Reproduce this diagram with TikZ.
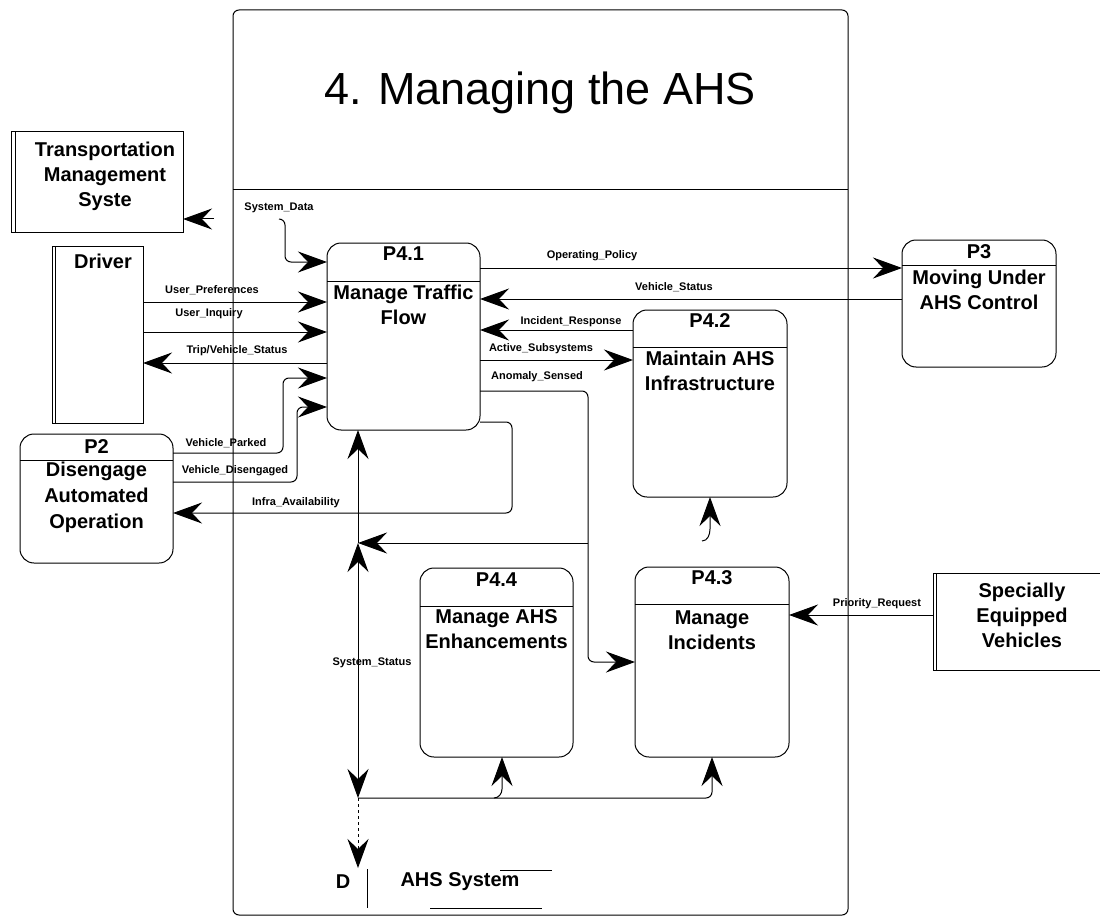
\documentclass[tikz,border=0pt]{standalone}
\usepackage{fontspec}
\setmainfont{Liberation Sans}
\usetikzlibrary{arrows.meta}
\begin{document}
\begin{tikzpicture}[x=1pt,y=-1pt,
  every node/.style={inner sep=0pt, outer sep=0pt},
  thin line/.style={line width=1pt},
  flow/.style={line width=1pt, -{Stealth[length=29pt,width=21pt,inset=10pt]}},
  bothway/.style={line width=1pt, {Stealth[length=29pt,width=21pt,inset=10pt]}-{Stealth[length=29pt,width=21pt,inset=10pt]}},
  proc/.style={draw, line width=1pt, rounded corners=14pt},
  ent/.style={draw, line width=1pt},
  lbl/.style={font=\bfseries\fontsize{11}{13}\selectfont},
  head/.style={font=\bfseries\fontsize{20}{24}\selectfont},
  body/.style={font=\bfseries\fontsize{20}{25}\selectfont, align=center},
  elbow/.style={rounded corners=6pt}
]
\useasboundingbox (0,0) rectangle (1100,920);

% enclosing process frame
\draw[thin line, rounded corners=6pt] (233,10) rectangle (848,915);
\draw[thin line] (233,190) -- (848,190);
\node[font=\fontsize{45}{54}\selectfont] (title) at (540,93) {4. Managing the AHS};

% processes
\node[proc, minimum width=153pt, minimum height=187pt] (p41) at (403.5,336.5) {};
\draw[thin line] (p41.west |- 0,281) -- (p41.east |- 0,281);
\node[head] (p41h) at (403.5,254) {P4.1};
\node[body] (p41b) at (403.5,305) {Manage Traffic\\Flow};

\node[proc, minimum width=154pt, minimum height=187pt] (p42) at (710,403.5) {};
\draw[thin line] (p42.west |- 0,347) -- (p42.east |- 0,347);
\node[head] (p42h) at (710,321) {P4.2};
\node[body] (p42b) at (710,371) {Maintain AHS\\Infrastructure};

\node[proc, minimum width=154pt, minimum height=190pt] (p43) at (712,662) {};
\draw[thin line] (p43.west |- 0,604) -- (p43.east |- 0,604);
\node[head] (p43h) at (712,578) {P4.3};
\node[body] (p43b) at (712,630) {Manage\\Incidents};

\node[proc, minimum width=153pt, minimum height=189pt] (p44) at (496.5,662.5) {};
\draw[thin line] (p44.west |- 0,606) -- (p44.east |- 0,606);
\node[head] (p44h) at (496.5,580) {P4.4};
\node[body] (p44b) at (496.5,629) {Manage AHS\\Enhancements};

\node[proc, minimum width=154pt, minimum height=127pt] (p3) at (979,303.5) {};
\draw[thin line] (p3.west |- 0,265) -- (p3.east |- 0,265);
\node[head] (p3h) at (979,252) {P3};
\node[body] (p3b) at (979,290) {Moving Under\\AHS Control};

\node[proc, minimum width=153pt, minimum height=129pt] (p2) at (96.5,498.5) {};
\draw[thin line] (p2.west |- 0,460) -- (p2.east |- 0,460);
\node[head] (p2h) at (96.5,447) {P2};
\node[body, font=\bfseries\fontsize{20}{26}\selectfont] (p2b) at (96.5,497) {Disengage\\Automated\\Operation};

% external entities
\node[ent, minimum width=172pt, minimum height=100pt] (tms) at (97,182) {};
\draw[thin line] ([xshift=4pt]tms.north west) -- ([xshift=4pt]tms.south west);
\node[body] (tmsb) at (105,176) {Transportation\\Management\\Syste};

\node[ent, minimum width=91pt, minimum height=177pt] (drv) at (97.5,334.5) {};
\draw[thin line] ([xshift=3pt]drv.north west) -- ([xshift=3pt]drv.south west);
\node[head] (drvh) at (103,261) {Driver};

\draw[thin line] (1100,573) -- (933,573) -- (933,670) -- (1100,670);
\draw[thin line] (936,573) -- (936,670);
\coordinate (sevw) at (933,615);
\node[body] (sev) at (1022,615) {Specially\\Equipped\\Vehicles};

% data store
\node[head] (dlab) at (343,882) {D};
\draw[thin line] (367,869) -- (367,908);
\node[head] (dname) at (460,882) {AHS System};
\draw[thin line] (500,870) -- (552,870);
\draw[thin line] (430,908) -- (542,908);
\coordinate (dstore) at (358,868);

% junctions on the status line
\coordinate (jss) at (358,543);
\coordinate (jbot) at (358,798);
\coordinate (sdstart) at (279,219);

% flows on the left of P4.1
\draw[flow, elbow] (sdstart) -| (285,262) -- (p41.west |- 0,262);
\draw[flow] (214,219) -- (tms.east |- 0,219);
\draw[flow] (drv.east |- 0,302) -- (p41.west |- 0,302);
\draw[flow] (drv.east |- 0,332) -- (p41.west |- 0,332);
\draw[flow] (p41.west |- 0,363) -- (drv.east |- 0,363);
\draw[flow, elbow] (p2.east |- 0,453) -- (283,453) -- (283,378) -- (p41.west |- 0,378);
\draw[flow, elbow] (p2.east |- 0,482) -- (297,482) -- (297,407) -- (p41.west |- 0,407);
\draw[flow, elbow] (p41.east |- 0,422) -- (512,422) -- (512,513) -- (p2.east |- 0,513);

% flows on the right of P4.1
\draw[flow] (p41.east |- 0,268) -- (p3.west |- 0,268);
\draw[flow] (p3.west |- 0,299) -- (p41.east |- 0,299);
\draw[flow] (p42.west |- 0,330) -- (p41.east |- 0,330);
\draw[flow] (p41.east |- 0,360) -- (p42.west |- 0,360);
\draw[flow, elbow] (p41.east |- 0,391) -- (588,391) -- (588,662) -- (p43.west |- 0,662);
\draw[flow] (588,543) -- (jss);
\draw[flow] (jss) -- (jss |- p41.south);
\draw[flow] (702,541) to[out=0,in=-90] (710,529) -- (p42.south);
\draw[flow] (sevw) -- (p43.east |- sevw);

% system status line and store access
\draw[bothway] (jss) -- (jbot);
\draw[flow, dashed] (jbot) -- (dstore);
\draw[flow, elbow] (jbot) -| (p43.south);
\draw[flow] (494,798) to[out=0,in=-90] (502,789) -- (p44.south -| 502,0);

% flow labels
\node[lbl] at (279,208) {System\_Data};
\node[lbl] at (212,290) {User\_Preferences};
\node[lbl] at (209,314) {User\_Inquiry};
\node[lbl] at (237,351) {Trip/Vehicle\_Status};
\node[lbl] at (226,443) {Vehicle\_Parked};
\node[lbl] at (235,471) {Vehicle\_Disengaged};
\node[lbl] at (296,503) {Infra\_Availability};
\node[lbl] at (592,256) {Operating\_Policy};
\node[lbl] at (674,287) {Vehicle\_Status};
\node[lbl] at (571,322) {Incident\_Response};
\node[lbl] at (541,349) {Active\_Subsystems};
\node[lbl] at (537,377) {Anomaly\_Sensed};
\node[lbl] at (877,604) {Priority\_Request};
\node[lbl] at (372,663) {System\_Status};
\end{tikzpicture}
\end{document}
